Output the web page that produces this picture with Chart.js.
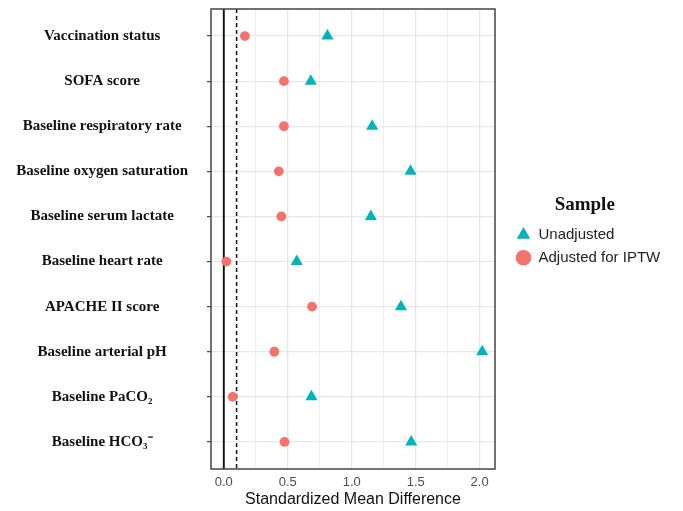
<!DOCTYPE html>
<html>
<head>
<meta charset="utf-8">
<script src="https://cdn.jsdelivr.net/npm/chart.js@4.4.1/dist/chart.umd.min.js"></script>
<style>
  html, body { margin: 0; padding: 0; background: #ffffff; }
  #wrap { width: 683px; height: 511px; }
</style>
</head>
<body>
<div id="wrap"><canvas id="c" width="683" height="511"></canvas></div>
<script>
// ---- data ----
const categories = [
  "Vaccination status",
  "SOFA score",
  "Baseline respiratory rate",
  "Baseline oxygen saturation",
  "Baseline serum lactate",
  "Baseline heart rate",
  "APACHE II score",
  "Baseline arterial pH",
  "Baseline PaCO\u2082",
  "Baseline HCO\u2083\u207B"
];
const unadjusted = [0.81, 0.68, 1.16, 1.46, 1.15, 0.57, 1.385, 2.02, 0.685, 1.465];
const adjusted   = [0.165, 0.47, 0.47, 0.43, 0.45, 0.02, 0.69, 0.395, 0.07, 0.475];
const seriesNames = ["Unadjusted", "Adjusted for IPTW"];
const xTickValues = [0, 0.25, 0.5, 0.75, 1, 1.25, 1.5, 1.75, 2];
const xLabelValues = [0, 0.5, 1, 1.5, 2];
const refSolid = 0;
const refDashed = 0.1;
const xMin = -0.1, xMax = 2.12;
const yMin = 0.4, yMax = categories.length + 0.6;

const teal = '#00B5B8';
const coral = '#F3736B';
const LEGEND_WIDTH = 153.5;

const toPts = arr => arr.map((v, i) => ({ x: v, y: i + 1 }));
const isMajor = v => xLabelValues.some(m => Math.abs(m - v) < 1e-9);

const panelBorder = {
  id: 'panelBorder',
  afterInit(chart) {
    const lg = chart.legend;
    if (lg && !lg._wrappedFit) {
      const origFit = lg.fit.bind(lg);
      lg.fit = function () { origFit(); this.width = LEGEND_WIDTH; };
      lg._wrappedFit = true;
    }
  },
  afterDatasetsDraw(chart) {
    const a = chart.chartArea, ctx = chart.ctx;
    ctx.save();
    ctx.strokeStyle = '#444444';
    ctx.lineWidth = 1.5;
    ctx.strokeRect(a.left, a.top, a.right - a.left, a.bottom - a.top);
    ctx.restore();
  }
};

new Chart(document.getElementById('c'), {
  type: 'scatter',
  data: {
    datasets: [
      {
        label: seriesNames[0],
        data: toPts(unadjusted),
        pointStyle: 'triangle',
        pointRadius: 7,
        pointHoverRadius: 7,
        backgroundColor: teal,
        borderColor: teal,
        borderWidth: 0
      },
      {
        label: seriesNames[1],
        data: toPts(adjusted),
        pointStyle: 'circle',
        pointRadius: 4.9,
        pointHoverRadius: 4.9,
        backgroundColor: coral,
        borderColor: coral,
        borderWidth: 0
      },
      {
        type: 'line',
        label: 'ref0',
        data: [{ x: refSolid, y: yMin }, { x: refSolid, y: yMax }],
        borderColor: '#111111',
        borderWidth: 1.9,
        pointRadius: 0,
        showLine: true
      },
      {
        type: 'line',
        label: 'ref1',
        data: [{ x: refDashed, y: yMin }, { x: refDashed, y: yMax }],
        borderColor: '#111111',
        borderWidth: 1.5,
        borderDash: [4, 3],
        pointRadius: 0,
        showLine: true
      }
    ]
  },
  options: {
    responsive: false,
    animation: false,
    devicePixelRatio: 1,
    layout: { padding: { left: 14, top: 9, right: 21.5, bottom: 0 } },
    scales: {
      x: {
        type: 'linear',
        min: xMin,
        max: xMax,
        afterBuildTicks: s => { s.ticks = xTickValues.map(v => ({ value: v })); },
        afterFit: s => { s.height = 42; s.paddingLeft = 0; s.paddingRight = 0; },
        ticks: {
          padding: 7,
          color: '#4D4D4D',
          font: { family: 'Liberation Sans, Arial, sans-serif', size: 13, lineHeight: 1 },
          callback: v => isMajor(v) ? v.toFixed(1) : '',
          autoSkip: false,
          maxRotation: 0
        },
        grid: {
          drawTicks: false,
          color: ctx => (ctx.tick && !isMajor(ctx.tick.value)) ? '#EEEEEE' : '#E6E6E6',
          lineWidth: ctx => (ctx.tick && !isMajor(ctx.tick.value)) ? 1.1 : 1.3
        },
        border: { display: false },
        title: {
          display: true,
          text: 'Standardized Mean Difference',
          color: '#111111',
          font: { family: 'Liberation Sans, Arial, sans-serif', size: 16, lineHeight: 1.2 },
          padding: { top: 0, bottom: 2 }
        }
      },
      y: {
        type: 'linear',
        reverse: true,
        min: yMin,
        max: yMax,
        afterBuildTicks: s => { s.ticks = categories.map((_, i) => ({ value: i + 1 })); },
        afterFit: s => { s.width = 197; s.paddingTop = 0; s.paddingBottom = 0; },
        ticks: {
          autoSkip: false,
          crossAlign: 'center',
          padding: 19,
          color: '#111111',
          font: { family: 'Liberation Serif, Times New Roman, serif', size: 15, weight: 'bold' },
          callback: v => categories[Math.round(v) - 1]
        },
        grid: {
          color: '#E8E8E8',
          lineWidth: 1.3,
          drawTicks: true,
          tickLength: 4,
          tickColor: '#444444',
          tickWidth: 1.2
        },
        border: { display: false }
      },
      gap: {
        type: 'linear',
        position: 'right',
        display: true,
        min: yMin,
        max: yMax,
        afterFit: s => { s.width = 13; s.paddingTop = 0; s.paddingBottom = 0; },
        ticks: { display: false },
        grid: { display: false, drawTicks: false },
        border: { display: false }
      }
    },
    plugins: {
      tooltip: { enabled: false },
      legend: {
        position: 'right',
        align: 'start',
        fullSize: false,
        title: {
          display: true,
          text: 'Sample',
          color: '#111111',
          font: { family: 'Liberation Serif, Times New Roman, serif', size: 19, weight: 'bold' },
          padding: { top: 186.5, bottom: 1 }
        },
        labels: {
          filter: item => seriesNames.includes(item.text),
          usePointStyle: true,
          boxHeight: 11,
          padding: 8,
          color: '#222222',
          font: { family: 'Liberation Sans, Arial, sans-serif', size: 15 }
        }
      }
    }
  },
  plugins: [panelBorder]
});
</script>
</body>
</html>
